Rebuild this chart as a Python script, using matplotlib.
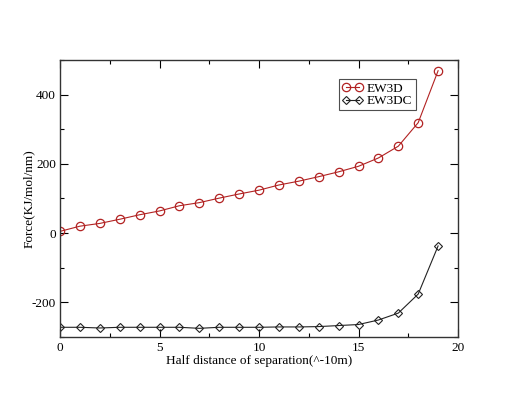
import matplotlib

matplotlib.use("Agg")
import matplotlib.pyplot as plt
from matplotlib.ticker import MultipleLocator

# half distance of separation (^-10m)
x = list(range(20))
ew3d = [5, 20, 28, 40, 53, 64, 79, 88, 101, 113, 124, 139, 150, 163, 177, 193, 217, 251, 319, 469]
ew3dc = [-272, -272, -274, -272, -272, -272, -272, -275, -272, -272, -272, -271, -271, -270, -267,
         -264, -251, -231, -176, -37]

plt.rcParams["font.family"] = ["Liberation Serif", "DejaVu Serif"]
plt.rcParams["axes.unicode_minus"] = False

fig = plt.figure(figsize=(5.16, 3.98), dpi=100)
ax = fig.add_axes([0.1163, 0.1533, 0.7713, 0.696])

ax.plot(x, ew3d, color="#b22222", lw=0.8, marker="o", ms=6, mfc="none", mec="#b22222", mew=0.9,
        label="EW3D")
ax.plot(x, ew3dc, color="#222222", lw=0.8, marker="D", ms=4.5, mfc="none", mec="#222222", mew=0.8,
        label="EW3DC")

ax.set_xlim(0, 20)
ax.set_ylim(-300, 500)
ax.xaxis.set_major_locator(MultipleLocator(5))
ax.xaxis.set_minor_locator(MultipleLocator(2.5))
ax.yaxis.set_major_locator(MultipleLocator(200))
ax.yaxis.set_minor_locator(MultipleLocator(100))
ax.tick_params(which="both", direction="in", top=True, right=True, labelsize=9.5)
ax.tick_params(which="major", length=6, width=0.8)
ax.tick_params(which="minor", length=3, width=0.8)
ax.tick_params(axis="y", pad=3)
for s in ax.spines.values():
    s.set_linewidth(1.0)
    s.set_color("#333333")

ax.set_xlabel("Half distance of separation(^-10m)", fontsize=9.5, labelpad=1)
ax.set_ylabel("Force(KJ/mol/nm)", fontsize=9.5)
ax.yaxis.set_label_coords(-0.062, 0.5)

leg = ax.legend(loc="upper left", bbox_to_anchor=(0.7, 0.93), numpoints=2, handlelength=1.6,
                fontsize=9.5, frameon=True, fancybox=False, borderpad=0.25, labelspacing=0.0,
                handletextpad=0.3, borderaxespad=0)
leg.get_frame().set_edgecolor("#222222")
leg.get_frame().set_linewidth(0.8)

fig.savefig("out.png", dpi=100)
